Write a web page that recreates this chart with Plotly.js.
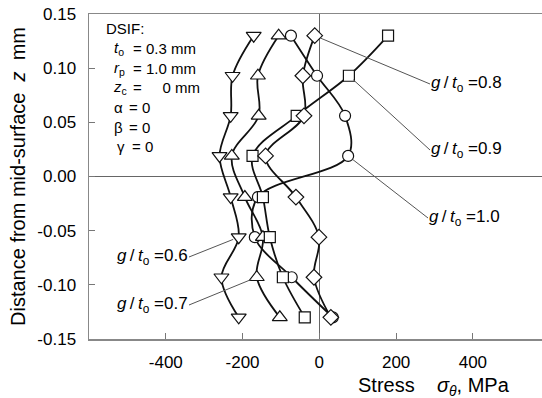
<!DOCTYPE html>
<html>
<head>
<meta charset="utf-8">
<script src="https://cdn.plot.ly/plotly-3.0.1.min.js"></script>
<style>html,body{margin:0;padding:0;background:#fff;}#chart{width:542px;height:398px;}</style>
</head>
<body>
<div id="chart"></div>
<script>
// ---- data ----
const zPos = [0.13, 0.093, 0.056, 0.019, -0.019, -0.056, -0.093, -0.13];
const stress06 = [-171, -226, -231, -260, -231, -210, -255, -210];
const stress07 = [-106, -160, -158, -228, -194, -147, -163, -103];
const stress08 = [-12, -43, -40, -140, -61, -1, -14, 30];
const stress09 = [179, 77, -59, -174, -147, -129, -95, -38];
const stress10 = [-74, -6, 67, 75, -160, -168, -72, 35];
const seriesNames = ['g/t0 = 0.6', 'g/t0 = 0.7', 'g/t0 = 0.8', 'g/t0 = 0.9', 'g/t0 = 1.0'];
const labelValues = ['0.6', '0.7', '0.8', '0.9', '1.0'];
const xTickVals = [-400, -200, 0, 200, 400];
const yTickVals = [-0.15, -0.10, -0.05, 0, 0.05, 0.10, 0.15];
const dsifLabels = ['<i>t</i><sub>o</sub>', '<i>r</i><sub>p</sub>', '<i>z</i><sub>c</sub>', 'α', 'β', 'γ'];
const dsifValues = ['= 0.3 mm', '= 1.0 mm', '=\u00A0\u00A0\u00A0\u00A0\u00A00 mm', '= 0', '= 0', '= 0'];

// ---- layout geometry ----
const W = 542, H = 398;
const M = {l: 89, r: 0, t: 14, b: 59};
const xRange = [-600, 580];
const yRange = [-0.15, 0.15];
const plotW = W - M.l - M.r, plotH = H - M.t - M.b;
const px2x = px => xRange[0] + (px - M.l) * (xRange[1] - xRange[0]) / plotW;
const py2y = py => yRange[1] - (py - M.t) * (yRange[1] - yRange[0]) / plotH;
const pxPaper = px => (px - M.l) / plotW;
const pyPaper = py => (H - M.b - py) / plotH;

const FONT = 'Liberation Sans, Arial, Helvetica, sans-serif';

function trace(x, name, symbol, size) {
  return {
    x: x, y: zPos, name: name, type: 'scatter', mode: 'lines+markers',
    line: {color: '#111', width: 1.8, shape: 'spline', smoothing: 1},
    marker: {symbol: symbol, size: size, color: '#fff', line: {color: '#111', width: 1.2}},
    cliponaxis: false
  };
}

const data = [
  trace(stress10, seriesNames[4], 'circle', 11),
  trace(stress06, seriesNames[0], 'triangle-down', 13),
  trace(stress07, seriesNames[1], 'triangle-up', 13),
  trace(stress09, seriesNames[3], 'square', 11),
  trace(stress08, seriesNames[2], 'diamond', 12)
];

const annotations = [];
function gLabel(v) { return '<i>g</i>\u2009/\u2009<i>t</i><sub>o</sub> =' + v; }
function leader(hx, hy, tailPx, tailPy, anchor, txt) {
  annotations.push({
    x: hx, y: hy, xref: 'x', yref: 'y',
    ax: px2x(tailPx), ay: py2y(tailPy), axref: 'x', ayref: 'y',
    text: txt, showarrow: true, arrowhead: 0, arrowwidth: 1, arrowcolor: '#555',
    standoff: 6, xanchor: anchor, yanchor: 'middle', borderpad: 0,
    font: {family: FONT, size: 17, color: '#000'}
  });
}
leader(stress08[0], zPos[0], 430, 84, 'left', gLabel(labelValues[2]));
leader(stress09[1], zPos[1], 430, 150, 'left', gLabel(labelValues[3]));
leader(stress10[3], zPos[3], 428, 218, 'left', gLabel(labelValues[4]));
leader(stress06[5], zPos[5], 189, 257, 'right', gLabel(labelValues[0]));
leader(stress07[6], zPos[6], 189, 305, 'right', gLabel(labelValues[1]));

// DSIF parameter block
function txt(px, py, s, size, anchor) {
  annotations.push({
    x: pxPaper(px), y: pyPaper(py), xref: 'paper', yref: 'paper',
    text: s, showarrow: false, xanchor: anchor || 'left', yanchor: 'middle',
    font: {family: FONT, size: size, color: '#000'}
  });
}
txt(104, 28, 'DSIF:', 15);
const dsifY = [48, 68, 88, 108, 128, 147];
const labX = [112, 112, 111, 112, 112, 115];
const valX = [131, 131, 131, 127, 127, 130];
for (let i = 0; i < dsifLabels.length; i++) {
  txt(labX[i], dsifY[i], dsifLabels[i], 15);
  txt(valX[i], dsifY[i], dsifValues[i], 15);
}

// x axis title (placed at right, as in the reference)
annotations.push({
  x: pxPaper(356), y: pyPaper(386), xref: 'paper', yref: 'paper',
  text: 'Stress\u00A0\u00A0\u00A0\u00A0<i>σ</i><sub><i>θ</i></sub>, MPa', showarrow: false,
  xanchor: 'left', yanchor: 'middle', font: {family: FONT, size: 20, color: '#000'}
});

const layout = {
  width: W, height: H,
  margin: M,
  paper_bgcolor: '#fff', plot_bgcolor: '#fff',
  showlegend: false,
  font: {family: FONT, size: 17, color: '#000'},
  xaxis: {
    range: xRange, tickvals: xTickVals, ticktext: xTickVals.map(String),
    ticks: 'inside', ticklen: 6, tickwidth: 1, tickcolor: '#777',
    showline: true, linecolor: '#888', linewidth: 1.5, mirror: true,
    showgrid: false, zeroline: true, zerolinecolor: '#666', zerolinewidth: 1,
    ticklabelstandoff: 7,
    tickfont: {family: FONT, size: 17, color: '#000'},
    fixedrange: true
  },
  yaxis: {
    range: yRange, tickvals: yTickVals, ticktext: yTickVals.map(v => v.toFixed(2)),
    ticks: 'inside', ticklen: 6, tickwidth: 1, tickcolor: '#777',
    showline: true, linecolor: '#888', linewidth: 1.5, mirror: false,
    showgrid: false, zeroline: true, zerolinecolor: '#666', zerolinewidth: 1,
    ticklabelstandoff: 8,
    tickfont: {family: FONT, size: 17, color: '#000'},
    title: {text: 'Distance from mid-surface\u00A0\u00A0<i>z</i>\u00A0\u00A0mm', font: {family: FONT, size: 20, color: '#000'}, standoff: 6},
    automargin: false,
    fixedrange: true
  },
  annotations: annotations
};

Plotly.newPlot('chart', data, layout, {displayModeBar: false, staticPlot: true});
</script>
</body>
</html>
